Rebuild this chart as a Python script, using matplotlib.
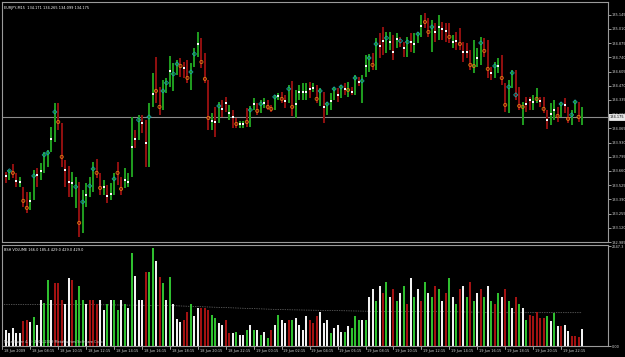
import numpy as np
import matplotlib
matplotlib.use("Agg")
import matplotlib.pyplot as plt
import matplotlib.transforms as mtransforms
import matplotlib.font_manager as fm

symbol_header = "EURJPY,M15  134.171 134.265 134.099 134.175"
vol_header = "BSH VOLUME 166.0 185.4 429.0 429.0 429.0"
current_price = 134.175

highs = [133.794,133.651,133.670,133.727,133.642,133.604,133.509,133.461,133.461,133.670,
         133.689,133.737,133.841,133.860,134.079,134.307,134.307,134.117,133.765,133.708,
         133.651,133.604,133.556,133.480,133.547,133.604,133.746,133.775,133.642,133.575,
         133.528,133.547,133.642,133.746,133.604,133.689,133.642,134.174,134.050,134.193,
         134.193,134.145,134.307,134.592,134.744,134.459,134.525,134.544,134.753,134.687,
         134.715,134.734,134.696,134.715,134.687,134.829,134.981,134.924,134.782,134.525,
         134.212,134.269,134.316,134.335,134.364,134.288,134.240,134.164,134.136,134.136,
         134.259,134.278,134.354,134.307,134.335,134.354,134.335,134.288,134.383,134.402,
         134.411,134.383,134.478,134.516,134.430,134.478,134.497,134.497,134.506,134.497,
         134.478,134.449,134.411,134.316,134.402,134.459,134.449,134.478,134.497,134.506,
         134.459,134.573,134.554,134.573,134.763,134.772,134.782,134.924,134.972,135.029,
         134.981,134.981,134.953,134.972,134.934,134.886,134.934,134.972,134.972,134.981,
         135.143,135.162,135.114,135.095,135.066,135.143,135.076,135.066,135.066,134.953,
         134.981,135.019,134.886,134.877,134.810,134.905,134.829,134.934,134.924,134.905,
         134.649,134.696,134.734,134.763,134.497,134.525,134.620,134.620,134.459,134.316,
         134.364,134.364,134.383,134.449,134.364,134.364,134.240,134.307,134.335,134.269,
         134.316,134.354,134.269,134.240,134.335,134.316,134.269]
lows = [133.642,133.547,133.575,133.594,133.509,133.509,133.319,133.262,133.290,133.385,
        133.509,133.575,133.642,133.699,133.841,133.936,134.050,133.699,133.509,133.414,
        133.414,133.309,133.034,133.072,133.319,133.414,133.461,133.594,133.433,133.433,
        133.357,133.385,133.433,133.528,133.433,133.499,133.509,133.604,133.879,133.955,
        134.022,133.699,133.699,134.269,134.307,134.193,134.240,134.402,134.459,134.421,
        134.573,134.554,134.544,134.497,134.430,134.649,134.744,134.639,134.497,134.050,
        134.050,133.984,134.117,134.174,134.221,134.145,134.069,134.069,134.069,134.069,
        134.079,134.079,134.240,134.193,134.212,134.259,134.240,134.221,134.240,134.335,
        134.307,134.259,134.307,134.183,134.164,134.335,134.335,134.335,134.354,134.411,
        134.307,134.278,134.117,134.193,134.240,134.335,134.316,134.354,134.383,134.364,
        134.383,134.383,134.468,134.307,134.554,134.601,134.620,134.620,134.734,134.763,
        134.782,134.810,134.715,134.829,134.839,134.744,134.744,134.791,134.782,134.877,
        134.934,135.019,134.934,134.791,134.886,134.905,134.905,134.886,134.877,134.829,
        134.810,134.810,134.696,134.734,134.620,134.592,134.649,134.668,134.744,134.544,
        134.525,134.544,134.592,134.478,134.221,134.212,134.449,134.335,134.240,134.098,
        134.221,134.240,134.240,134.307,134.269,134.212,134.060,134.098,134.145,134.126,
        134.174,134.212,134.117,134.098,134.212,134.126,134.098]
nan = float("nan")
marks = [nan,133.613,133.661,133.642,133.566,133.556,133.376,133.309,133.376,133.613,
         133.623,133.661,133.813,133.832,133.965,134.221,134.126,133.794,133.670,133.556,
         133.547,133.509,133.167,133.366,133.433,133.518,133.680,133.642,133.499,133.509,
         133.423,133.442,133.585,133.642,133.490,133.575,133.556,133.889,133.965,134.145,
         134.117,133.927,134.174,134.392,134.421,134.269,134.421,134.497,134.611,134.582,
         134.677,134.658,134.639,134.544,134.601,134.772,134.867,134.696,134.535,134.164,
         134.136,134.126,134.278,134.250,134.307,134.212,134.174,134.107,134.107,134.107,
         134.126,134.240,134.297,134.231,134.297,134.307,134.269,134.250,134.364,134.373,
         134.345,134.326,134.440,134.269,134.297,134.411,134.411,134.411,134.440,134.449,
         134.345,134.421,134.269,134.297,134.326,134.440,134.383,134.459,134.440,134.430,
         134.411,134.544,134.506,134.516,134.658,134.734,134.668,134.867,134.848,134.896,
         134.924,134.886,134.791,134.915,134.896,134.829,134.886,134.886,134.867,134.962,
         135.038,135.076,134.981,135.029,134.981,135.029,135.010,134.991,134.934,134.886,
         134.896,134.867,134.791,134.791,134.668,134.658,134.734,134.877,134.801,134.630,
         134.592,134.658,134.658,134.544,134.288,134.459,134.592,134.383,134.278,134.269,
         134.297,134.335,134.316,134.345,134.326,134.250,134.145,134.202,134.240,134.183,
         134.297,134.288,134.155,134.193,134.316,134.174,nan]
bar_dir = ("rrgrrgrrgg" "rggggg" "rrrr" "ggrggggrrg" "rggrrgggrg"
           "rrggrrgggg" "grrrgggrrr" "grgrrgrrgg" "rggrggrrgg" "rrgrggggrg"
           "rgrgggrgrg" "rgrgggrgrr" "ggrgrrgrgg" "grrgrgrrrg" "rrrrrgggrr"
           "rggrrggrrg" "rrggrrrggr" "grrggrg")
mark_kind = ("-wcowwoowc" "wwccwcooww" "wcocwccoow" "wwcoowwwwc" "wwcwooccwc"
             "cowoccwooo" "wwcwwwwoww" "ocwocwoocw" "owcowwwwww" "ocwcwcwcwo"
             "wcwcwcocww" "cwwwcwcwwc" "woocwwwwow" "wowwoowcoo" "wcwoocccoo"
             "wwwowowwwo" "cwocco-")

volumes = [640,430,350,480,350,350,670,700,640,780,
           560,1230,1150,1740,1230,1680,1660,1230,1100,1790,
           1740,1230,1580,1230,1100,1230,1230,1100,1230,960,
           1100,1230,1230,960,1230,1100,1000,2460,1850,1230,
           1230,1950,1950,2590,2250,1820,1660,1230,1820,1100,
           720,640,700,900,1100,800,1000,1000,1000,960,
           830,750,620,560,700,350,350,370,290,290,
           430,560,430,430,290,370,210,430,560,830,
           700,620,700,700,750,560,430,800,700,620,
           800,900,620,700,350,480,560,380,380,530,
           480,800,700,700,700,1300,1500,1200,1600,1400,
           1700,1300,1500,1200,1400,1600,1100,1800,1300,1500,
           1200,1700,1400,1300,1600,1500,1200,1400,1800,1300,
           1100,1500,1600,1300,1700,1200,1400,1500,1300,1600,
           1200,1100,1400,1300,1500,1200,1000,1300,1100,1000,
           700,830,800,900,750,750,800,670,880,530,
           530,560,400,270,270,240,450]
vol_kind = ("rwwwwwrrwg" "wwggwrrrww" "rgggwrrrww" "gwggwgwgww" "wrggwrgwgw"
            "wwrrgwwrrr" "ggwwrrwgww" "gwgwgwgrwg" "wwrgwwwwrr" "rwwwgwwwgw"
            "gggwgwwgwr" "gwrgwgrwgw" "rgwgrgwrgw" "grwgrgwrgw" "grgwrgwrgw"
            "grrrrrgwgw" "rwwrr")
# average-volume level, at these bars
ma_bars = [0, 24, 48, 56, 64, 80, 96, 112, 128, 144, 160, 166]
ma_levels = [1096, 1096, 1070, 1043, 1016, 963, 936, 909, 909, 882, 882, 882]

time_labels = ["18 Jun 2009", "18 Jun 08:15", "18 Jun 10:15", "18 Jun 12:15", "18 Jun 14:15",
               "18 Jun 16:15", "18 Jun 18:15", "18 Jun 20:15", "18 Jun 22:15", "19 Jun 00:15",
               "19 Jun 02:15", "19 Jun 04:15", "19 Jun 06:15", "19 Jun 08:15", "19 Jun 10:15",
               "19 Jun 12:15", "19 Jun 14:15", "19 Jun 16:15", "19 Jun 18:15", "19 Jun 20:15",
               "19 Jun 22:15"]
price_ticks = [132.985, 133.120, 133.255, 133.390, 133.525, 133.660, 133.795, 133.930, 134.065,
               134.200, 134.335, 134.470, 134.605, 134.740, 134.875, 135.010, 135.145]
vol_max_label = 2647.3

names = {f.name for f in fm.fontManager.ttflist}
FONT = ["Liberation Sans Narrow", "DejaVu Sans"] if "Liberation Sans Narrow" in names else ["DejaVu Sans"]
FS = 3.3 if FONT[0] == "Liberation Sans Narrow" else 2.5
plt.rcParams["font.family"] = FONT

n = len(highs)
idx = np.arange(n)
W, H = 625, 357
fig = plt.figure(figsize=(W / 100, H / 100), dpi=100, facecolor="black")
L, R = 2, 608
ax = fig.add_axes([L / W, 1 - 242 / H, (R - L) / W, 240 / H], facecolor="black")
axv = fig.add_axes([L / W, 1 - 346 / H, (R - L) / W, 101 / H], facecolor="black")

GREEN = "#1f9a1f"
RED = "#8e0f0f"
cols = [GREEN if c == "g" else RED for c in bar_dir[:n]]
ax.vlines(idx, lows, highs, colors=cols, linewidth=1.45)
ax.axhline(current_price, color="#8c8c8c", linewidth=0.8, zorder=1)
mk = np.array(list(mark_kind[:n]))
m = np.array(marks)
sel = mk == "w"
ax.scatter(idx[sel], m[sel], marker="s", s=4.5, color="white", linewidths=0, zorder=3)
sel = mk == "o"
ax.scatter(idx[sel], m[sel], marker="o", s=5, facecolors="none", edgecolors="#e07b14", linewidths=0.6, zorder=3)
sel = mk == "c"
ax.scatter(idx[sel], m[sel], marker="D", s=4.5, facecolors="none", edgecolors="#1aa3a3", linewidths=0.6, zorder=3)

x0, x1 = -0.1, (R - 1.7) / 3.496
ax.set_xlim(x0, x1)
p_top = 135.285 - 0.0095 * 2
p_bot = 135.285 - 0.0095 * 242
ax.set_ylim(p_bot, p_top)

vc = {"g": "#2fbf2f", "r": "#a31212", "w": "#f2f2f2"}
axv.plot(ma_bars, ma_levels, color="#9a9a9a", linewidth=0.5, linestyle=(0, (1, 1.5)), zorder=1)
axv.vlines(idx, 0, volumes, colors=[vc[c] for c in vol_kind[:n]], linewidth=1.45, zorder=2)
axv.set_xlim(x0, x1)
axv.set_ylim(0, vol_max_label * 1.01)

for a in (ax, axv):
    for s in a.spines.values():
        s.set_color("#9a9a9a")
        s.set_linewidth(0.8)
    a.set_xticks([])
    a.tick_params(axis="y", which="both", right=True, left=False, labelleft=False,
                  labelright=True, colors="#d8d8d8", length=2, width=0.5, labelsize=FS, pad=0.8)

ax.set_yticks(price_ticks)
ax.set_yticklabels([f"{t:.3f}" for t in price_ticks])
ax.text(1.003, current_price, f"{current_price:.3f}", transform=ax.get_yaxis_transform(),
        fontsize=FS, color="black", va="center", ha="left", zorder=10,
        bbox=dict(boxstyle="square,pad=0.3", facecolor="#e8e8e8", edgecolor="white", linewidth=0.5))
axv.set_yticks([0, vol_max_label])
axv.set_yticklabels(["0.00", f"{vol_max_label:.1f}"])

ax.text(0.003, 0.985, symbol_header, transform=ax.transAxes, fontsize=FS, color="white",
        va="top", ha="left")
axv.text(0.003, 0.975, vol_header, transform=axv.transAxes, fontsize=FS, color="white",
         va="top", ha="left")
axv.text(0.003, 0.02, "MetaTrader 4, \u00a9 2001-2009 MetaQuotes Software Corp.", transform=axv.transAxes,
         fontsize=FS, color="#cfcfcf", va="bottom", ha="left", zorder=5)

trans = mtransforms.blended_transform_factory(axv.transData, axv.transAxes)
for k, lab in enumerate(time_labels):
    xi = 8 * k
    axv.plot([xi, xi], [-0.03, 0.0], transform=trans, color="#cfcfcf", linewidth=0.5, clip_on=False)
    axv.text(xi + 0.5, -0.03, lab, transform=trans, fontsize=FS, color="#d8d8d8",
             va="top", ha="left", clip_on=False)

fig.savefig("out.png", dpi=100, facecolor="black")
